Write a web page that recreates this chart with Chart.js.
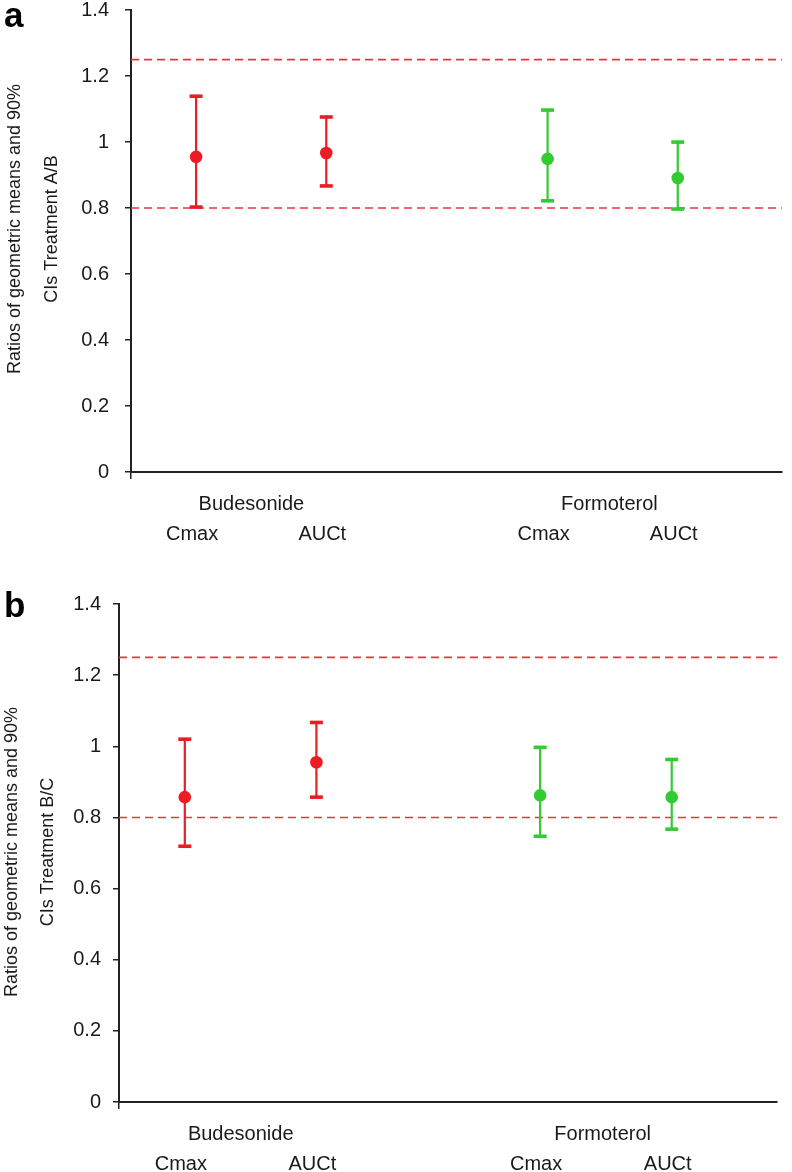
<!DOCTYPE html>
<html><head><meta charset="utf-8">
<script src="https://cdn.jsdelivr.net/npm/chart.js@4.4.1/dist/chart.umd.min.js"></script>
<style>
html,body{margin:0;padding:0;background:#fff;}
#wrap{position:relative;width:792px;height:1172px;overflow:hidden;}
.panel{position:absolute;left:0;width:792px;}
</style></head><body>
<div id="wrap">
<div class="panel" style="top:0;height:590px"><canvas id="cA" width="792" height="590"></canvas></div>
<div class="panel" style="top:590px;height:582px"><canvas id="cB" width="792" height="582"></canvas></div>
</div>
<script>
// ---- data ----
const categories = ['Cmax', 'AUCt', 'Cmax', 'AUCt'];
const categoryX = [1, 3, 6.4, 8.4];
const categoryGroup = [0, 0, 1, 1];
const groups = ['Budesonide', 'Formoterol'];
const groupX = [1.85, 7.35];
const yTicks = [0, 0.2, 0.4, 0.6, 0.8, 1, 1.2, 1.4];
const referenceLimits = [0.8, 1.25];

const meanA  = [0.955, 0.967, 0.949, 0.891];
const lowerA = [0.803, 0.867, 0.822, 0.797];
const upperA = [1.139, 1.076, 1.097, 1.000];

const meanB  = [0.857, 0.955, 0.862, 0.857];
const lowerB = [0.719, 0.857, 0.747, 0.767];
const upperB = [1.020, 1.067, 0.997, 0.963];

const titleA = ['Ratios of geometric means and 90%', 'CIs Treatment A/B'];
const titleB = ['Ratios of geometric means and 90%', 'CIs Treatment B/C'];

// ---- styles ----
const groupColors = ['rgb(236,28,36)', 'rgb(50,204,50)'];
const REF_COLOR = 'rgb(226,56,66)';
const AXIS_COLOR = '#222';
const TEXT_COLOR = '#1a1a1a';
const FONT = '"Liberation Sans", Arial, sans-serif';
const X_MIN = 0, X_MAX = 10;

function makeChart(canvasId, p) {
  const col = i => groupColors[categoryGroup[i]];
  const ds = [];
  referenceLimits.forEach(v => ds.push({
    type: 'line', data: [{x: X_MIN, y: v}, {x: X_MAX, y: v}],
    borderColor: REF_COLOR, borderWidth: 1.6, borderDash: [8, 5],
    pointRadius: 0, order: 5
  }));
  categories.forEach((c, i) => ds.push({
    type: 'line', data: [{x: categoryX[i], y: p.lower[i]}, {x: categoryX[i], y: p.upper[i]}],
    borderColor: col(i), borderWidth: 2.2, pointRadius: 0, order: 3
  }));
  const capData = [], capCols = [];
  categories.forEach((c, i) => {
    capData.push({x: categoryX[i], y: p.lower[i]}, {x: categoryX[i], y: p.upper[i]});
    capCols.push(col(i), col(i));
  });
  ds.push({
    type: 'scatter', data: capData, pointStyle: 'line', pointRadius: 6.5,
    borderWidth: 3.6, borderColor: capCols, backgroundColor: capCols, order: 2
  });
  ds.push({
    type: 'scatter', data: categories.map((c, i) => ({x: categoryX[i], y: p.mean[i]})),
    pointStyle: 'circle', pointRadius: 6.3, borderWidth: 0,
    backgroundColor: categories.map((c, i) => col(i)),
    borderColor: categories.map((c, i) => col(i)), order: 1
  });

  const textPlugin = {
    id: 'texts',
    afterDraw(chart) {
      const ctx = chart.ctx, ca = chart.chartArea, xs = chart.scales.x;
      ctx.save();
      // panel letter
      ctx.fillStyle = '#000';
      ctx.font = 'bold 35px ' + FONT;
      ctx.textAlign = 'left'; ctx.textBaseline = 'alphabetic';
      ctx.fillText(p.letter, 4, p.letterY);
      // y title
      ctx.fillStyle = TEXT_COLOR;
      ctx.font = '18px ' + FONT;
      ctx.textAlign = 'center'; ctx.textBaseline = 'middle';
      p.title.forEach((t, k) => {
        ctx.save();
        ctx.translate(p.titleX[k], p.titleY);
        ctx.rotate(-Math.PI / 2);
        ctx.fillText(t, 0, 0);
        ctx.restore();
      });
      // x labels
      ctx.font = '20px ' + FONT;
      groups.forEach((g, k) => ctx.fillText(g, xs.getPixelForValue(groupX[k]), ca.bottom + 32));
      categories.forEach((c, i) => ctx.fillText(c, xs.getPixelForValue(categoryX[i]) - 4, ca.bottom + 62));
      ctx.restore();
    }
  };

  return new Chart(document.getElementById(canvasId), {
    type: 'scatter',
    data: {datasets: ds},
    options: {
      responsive: false, animation: false, devicePixelRatio: 1, events: [],
      layout: {padding: {left: 0, top: p.padTop, right: p.padRight, bottom: 0}},
      plugins: {legend: {display: false}, tooltip: {enabled: false}},
      scales: {
        x: {
          type: 'linear', min: X_MIN, max: X_MAX, position: 'bottom',
          afterBuildTicks: s => { s.ticks = [{value: X_MIN}]; },
          afterFit: s => { s.height = p.xAxisHeight; s.paddingLeft = 0; s.paddingRight = 0; },
          ticks: {display: false},
          grid: {drawOnChartArea: false, drawTicks: true, tickLength: 7, color: AXIS_COLOR, lineWidth: 1.5},
          border: {display: true, color: AXIS_COLOR, width: 2}
        },
        y: {
          type: 'linear', min: yTicks[0], max: yTicks[yTicks.length - 1],
          afterBuildTicks: s => { s.ticks = yTicks.map(v => ({value: v})); },
          afterFit: s => { s.width = p.axisLeft; s.paddingTop = 0; s.paddingBottom = 0; },
          ticks: {
            font: {family: FONT, size: 20}, color: TEXT_COLOR, padding: p.tickPad,
            callback: v => String(+v.toFixed(1))
          },
          grid: {drawOnChartArea: false, drawTicks: true, tickLength: 6, color: AXIS_COLOR, lineWidth: 1.5},
          border: {display: true, color: AXIS_COLOR, width: 2}
        }
      }
    },
    plugins: [textPlugin]
  });
}

makeChart('cA', {
  letter: 'a', letterY: 27, title: titleA, titleX: [15, 52], titleY: 229,
  mean: meanA, lower: lowerA, upper: upperA,
  axisLeft: 131, padTop: 10, padRight: 10, xAxisHeight: 118, tickPad: 16
});
makeChart('cB', {
  letter: 'b', letterY: 27, title: titleB, titleX: [12, 48], titleY: 262,
  mean: meanB, lower: lowerB, upper: upperB,
  axisLeft: 119, padTop: 14, padRight: 15, xAxisHeight: 70, tickPad: 12
});
</script>
</body></html>
